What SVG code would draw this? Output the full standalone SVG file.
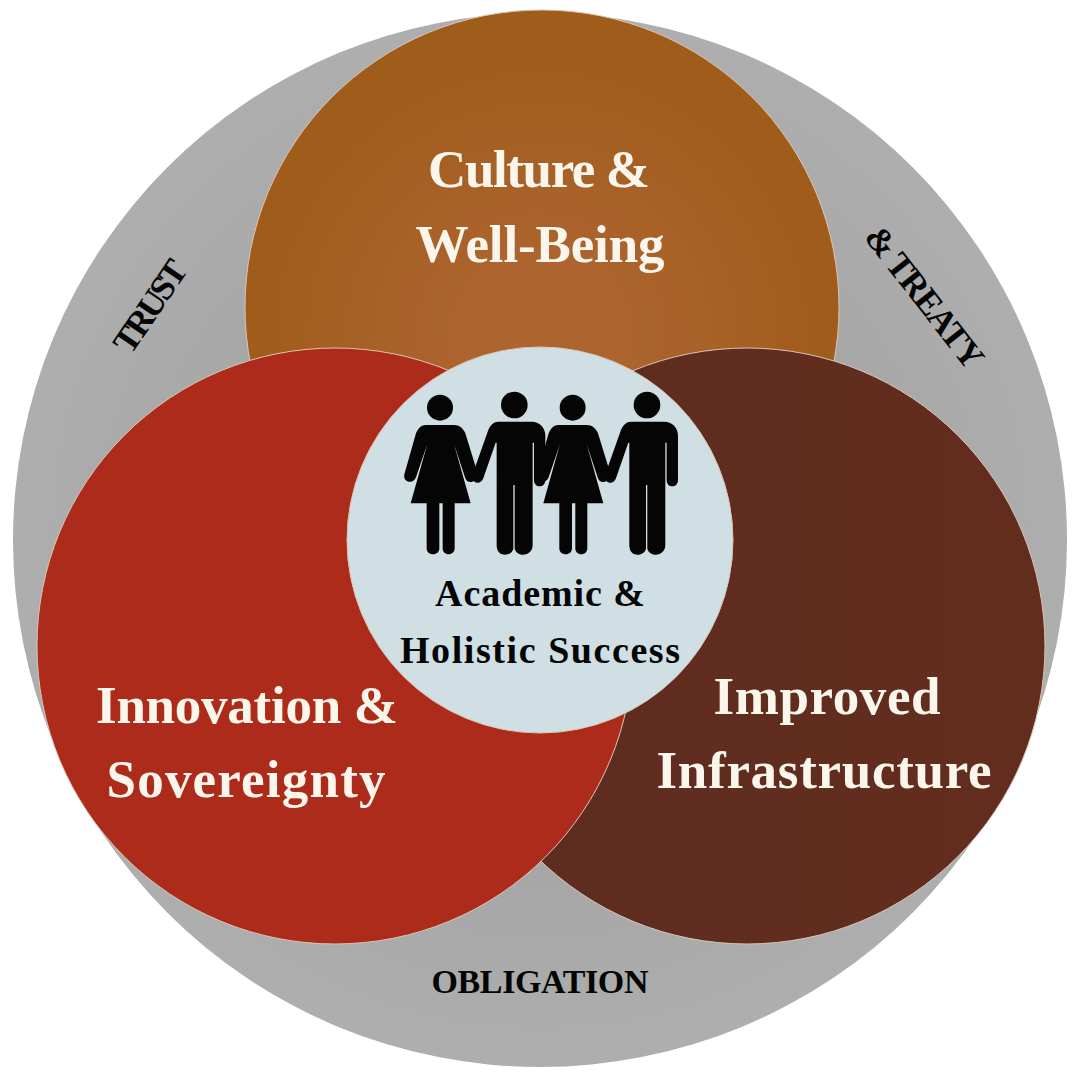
<svg xmlns="http://www.w3.org/2000/svg" xmlns:xlink="http://www.w3.org/1999/xlink" width="1080" height="1080" viewBox="0 0 1080 1080">
<style>
text{font-family:"Liberation Serif","DejaVu Serif",serif;font-weight:700;text-anchor:middle}
.w{fill:#fbf6ec;font-size:53px}
.k{fill:#050505}
.ring{stroke:#d9c6b4;stroke-width:1}
</style>
<defs>
<radialGradient id="gOuter" cx="50%" cy="50%" r="50%"><stop offset="0.6" stop-color="#a6a6a6"/><stop offset="1" stop-color="#aeaeae"/></radialGradient>
<radialGradient id="gTop" cx="50%" cy="55%" r="50%"><stop offset="0.25" stop-color="#ad642f"/><stop offset="1" stop-color="#a05c1a"/></radialGradient>
<linearGradient id="gRight" x1="0" y1="0" x2="1" y2="0"><stop offset="0" stop-color="#5d2c20"/><stop offset="1" stop-color="#632d1e"/></linearGradient>
<g id="woman">
<circle cx="180" cy="113" r="39"/>
<path d="M138 165H222C238 165 250 175 256 190L290 300C296 318 290 332 275 336C264 338 258 332 255 322L222 222L272 400H224V535C224 546 216 553 206 553C196 553 188 546 188 535V400H178V535C178 546 170 553 159 553C148 553 140 546 140 535V400H92L142 222L108 322C104 332 96 337 86 335C74 332 70 322 74 310L108 190C114 175 124 165 138 165Z"/>
</g>
<g id="man">
<circle cx="403" cy="105" r="40"/>
<path d="M355 155H455C478 155 495 172 496 195V330C496 342 488 349 479 349C470 349 462 342 462 330V218H458V525C458 543 445 554 429 554C416 554 407 547 404 536V345H400V536C397 547 388 554 375 554C359 554 350 543 350 525V218H347L310 325C306 335 298 340 290 338C278 336 274 324 279 310L325 180C331 165 342 155 355 155Z"/>
</g>
</defs>
<rect width="1080" height="1080" fill="#ffffff"/>
<g id="outer"><circle cx="540" cy="540" r="527" fill="url(#gOuter)"/></g>
<g id="culture">
<circle class="ring" cx="542" cy="307" r="297" fill="url(#gTop)"/>
<text class="w" x="539" y="187" textLength="222">Culture &amp;</text>
<text class="w" x="540" y="262" textLength="249">Well-Being</text>
</g>
<g id="infrastructure">
<circle class="ring" cx="747" cy="646" r="298" fill="url(#gRight)"/>
<text class="w" x="827" y="714" textLength="227">Improved</text>
<text class="w" x="824" y="788" textLength="335">Infrastructure</text>
</g>
<g id="innovation">
<circle class="ring" cx="335" cy="646" r="298" fill="#ad2b1a"/>
<text class="w" x="247" y="723" textLength="302">Innovation &amp;</text>
<text class="w" x="246" y="797" textLength="279">Sovereignty</text>
</g>
<g id="success">
<circle class="ring" cx="540" cy="540" r="193" fill="#cfdfe4"/>
<g class="k" transform="translate(380 370) scale(.3333)">
<use href="#woman"/>
<use href="#man"/>
<use href="#woman" x="398"/>
<use href="#man" x="398"/>
</g>
<text class="k" x="540" y="606" font-size="38" textLength="210">Academic &amp;</text>
<text class="k" x="540" y="663" font-size="38" textLength="280">Holistic Success</text>
</g>
<g id="labels">
<text class="k" x="540" y="993" font-size="34" textLength="217">OBLIGATION</text>
<text class="k" transform="translate(150 306) rotate(-56)" y="12" font-size="35" textLength="104">TRUST</text>
<text class="k" transform="translate(925 297) rotate(52)" y="12" font-size="35" textLength="170">&amp; TREATY</text>
</g>
<g id="connectors"/>
</svg>
